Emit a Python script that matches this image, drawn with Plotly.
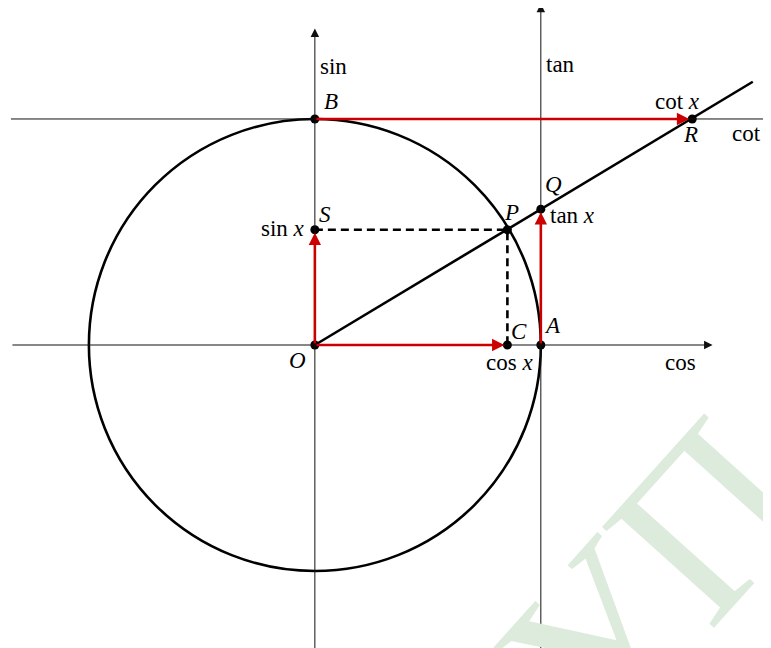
import plotly.graph_objects as go

# ---- values (unit circle, radius = 1) ----
cos_x = 0.852
sin_x = 0.510
tan_x = 0.601
cot_x = 1.670

point_names = ["O", "A", "B", "C", "S", "P", "Q", "R"]
point_x = [0.0, 1.0, 0.0, cos_x, 0.0, cos_x, 1.0, cot_x]
point_y = [0.0, 0.0, 1.0, 0.0, sin_x, sin_x, tan_x, 1.0]

axis_labels = ["sin", "tan", "cos", "cot"]
value_labels = ["sin <i>x</i>", "cos <i>x</i>", "tan <i>x</i>", "cot <i>x</i>"]

# view window (data units); page body margin shifts the figure by ~7 px
x_range = [-1.358, 2.054]
y_range = [-1.376, 1.491]

BLACK = "#000000"
AXIS = "#111111"
RED = "#cc0000"
FONT = "Liberation Serif"
FS = 23


def at(px, py):
    """label placement: screen pixel -> data units (O at 314,344; radius 226 px)"""
    return (px - 314) / 226.0, (344 - py) / 226.0


fig = go.Figure()

# circle
fig.add_shape(type="circle", xref="x", yref="y", x0=-1, y0=-1, x1=1, y1=1,
              line=dict(color=BLACK, width=2.6))

# cot axis (no visible arrow)
fig.add_shape(type="line", xref="x", yref="y", x0=-1.345, y0=1, x1=2.2, y1=1,
              line=dict(color=AXIS, width=1))
# lower parts of vertical axes
fig.add_shape(type="line", xref="x", yref="y", x0=0, y0=-1.5, x1=0, y1=0,
              line=dict(color=AXIS, width=1))
fig.add_shape(type="line", xref="x", yref="y", x0=1, y0=-1.5, x1=1, y1=0,
              line=dict(color=AXIS, width=1))

# axes with arrows: (tail, tip)
axes_arrows = [
    ((-1.345, 0), (1.76, 0)),   # cos axis
    ((0, 0), (0, 1.40)),        # sin axis
    ((1, 0), (1, 1.51)),        # tan axis
]
for (tx, ty), (hx, hy) in axes_arrows:
    fig.add_annotation(x=hx, y=hy, ax=tx, ay=ty, xref="x", yref="y",
                       axref="x", ayref="y", showarrow=True, arrowhead=2,
                       arrowsize=1.7, arrowwidth=1, arrowcolor=AXIS, text="")

# line O -> P extended
ext = 1.938
fig.add_trace(go.Scatter(x=[0, ext], y=[0, ext * tan_x], mode="lines",
                         line=dict(color=BLACK, width=2.6), hoverinfo="skip",
                         showlegend=False))

# dashed projections S-P, P-C
fig.add_trace(go.Scatter(x=[0, cos_x, cos_x], y=[sin_x, sin_x, 0], mode="lines",
                         line=dict(color=BLACK, width=2.6, dash="8px,5px"),
                         hoverinfo="skip", showlegend=False))

# red arrows
red_arrows = [
    ((0, 0), (cos_x, 0)),
    ((0, 0), (0, sin_x)),
    ((1, 0), (1, tan_x)),
    ((0, 1), (cot_x, 1)),
]
for (tx, ty), (hx, hy) in red_arrows:
    fig.add_annotation(x=hx, y=hy, ax=tx, ay=ty, xref="x", yref="y",
                       axref="x", ayref="y", showarrow=True, arrowhead=2,
                       arrowsize=0.95, arrowwidth=2.6, arrowcolor=RED,
                       standoff=3, text="")

# points
fig.add_trace(go.Scatter(x=point_x, y=point_y, mode="markers",
                         marker=dict(color=BLACK, size=9), hoverinfo="skip",
                         showlegend=False))

# point labels
label_pos = {
    "O": at(297, 359), "A": at(552, 325), "B": at(330, 101),
    "C": at(518, 331), "S": at(324, 214), "P": at(511, 212),
    "Q": at(553, 184), "R": at(690, 134),
}
for name in point_names:
    lx, ly = label_pos[name]
    fig.add_annotation(x=lx, y=ly, xref="x", yref="y", text=f"<i>{name}</i>",
                       showarrow=False, font=dict(family=FONT, size=FS, color=BLACK))

# axis labels
axis_label_pos = [at(333, 66), at(560, 64), at(680, 361), at(746, 133)]
for txt, (lx, ly) in zip(axis_labels, axis_label_pos):
    fig.add_annotation(x=lx, y=ly, xref="x", yref="y", text=txt, showarrow=False,
                       font=dict(family=FONT, size=FS, color=BLACK))

# value labels
value_label_pos = [at(282, 228), at(509, 361), at(572, 215), at(677, 101)]
for txt, (lx, ly) in zip(value_labels, value_label_pos):
    fig.add_annotation(x=lx, y=ly, xref="x", yref="y", text=txt, showarrow=False,
                       font=dict(family=FONT, size=FS, color=BLACK))

# watermark
wx, wy = at(652, 578)
fig.add_annotation(x=wx, y=wy, xref="x", yref="y", text="УП", showarrow=False,
                   textangle=-48, font=dict(family=FONT, size=230, color="#dcebdc"))

fig.update_layout(
    width=771, height=648, margin=dict(l=0, r=0, t=0, b=0),
    plot_bgcolor="white", paper_bgcolor="white", showlegend=False,
    xaxis=dict(range=x_range, visible=False, fixedrange=True),
    yaxis=dict(range=y_range, visible=False, fixedrange=True),
)

fig.write_html("out.html")
